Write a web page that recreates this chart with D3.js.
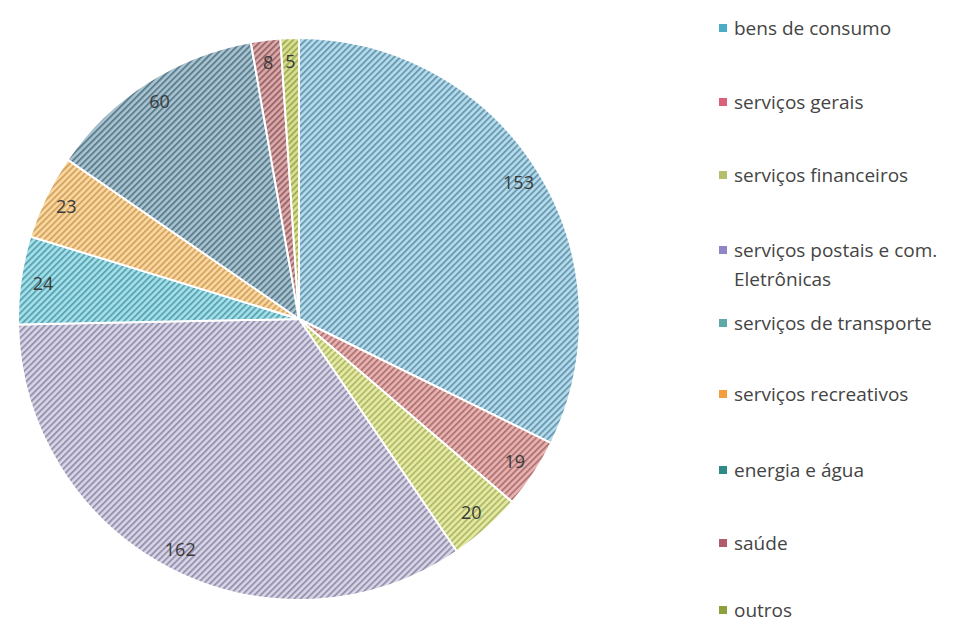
<!DOCTYPE html>
<html>
<head>
<meta charset="utf-8">
<script src="https://cdn.jsdelivr.net/npm/d3@7"></script>
<style>
  html, body { margin: 0; padding: 0; background: #ffffff; overflow: hidden; }
  svg { display: block; }
  text { font-family: "Open Sans", "DejaVu Sans", sans-serif; }
</style>
</head>
<body>
<svg id="chart" width="965" height="624"></svg>
<script>
// Sectors, in drawing order (clockwise from 12 o'clock)
const categories = [
  "bens de consumo",
  "serviços gerais",
  "serviços financeiros",
  "serviços postais e com. Eletrônicas",
  "serviços de transporte",
  "serviços recreativos",
  "energia e água",
  "saúde",
  "outros"
];
const values = [153, 19, 20, 162, 24, 23, 60, 8, 5];

// Legend text lines (long names wrap onto a second line)
const legendLines = [
  ["bens de consumo"],
  ["serviços gerais"],
  ["serviços financeiros"],
  ["serviços postais e com.", "Eletrônicas"],
  ["serviços de transporte"],
  ["serviços recreativos"],
  ["energia e água"],
  ["saúde"],
  ["outros"]
];

// Hatched fills: light ground + darker diagonal stripes, plus a solid swatch colour
const groundColors = ["#b6dbeb", "#eab3b1", "#e6eba3", "#d8d5e6", "#a6e0e9", "#fbd7a2", "#a9c3d0", "#dcaaab", "#d8e193"];
const stripeColors = ["#6a9bb3", "#ae7775", "#b3ba6c", "#9793b0", "#5aa6b4", "#d4a560", "#5e7f8f", "#9a676a", "#a3ad57"];
const swatchColors = ["#4bacc6", "#d9627a", "#b5be6a", "#8f86c8", "#5ea8a8", "#f59d3d", "#2f8a8a", "#b05a6a", "#8ca03c"];

const svg = d3.select("#chart");
const defs = svg.append("defs");

categories.forEach((c, i) => {
  const p = defs.append("pattern")
    .attr("id", "hatch" + i)
    .attr("patternUnits", "userSpaceOnUse")
    .attr("width", 4.4)
    .attr("height", 4.4)
    .attr("patternTransform", "rotate(45)");
  p.append("rect").attr("width", 4.4).attr("height", 4.4).attr("fill", groundColors[i]);
  p.append("rect").attr("x", 0).attr("width", 1.9).attr("height", 4.4).attr("fill", stripeColors[i]);
});

// Pie geometry
const cx = 299, cy = 319, radius = 281;

const pie = d3.pie().sort(null).value(d => d.value);
const arcs = pie(categories.map((c, i) => ({ name: c, value: values[i], index: i })));

const arc = d3.arc().innerRadius(0).outerRadius(radius);
const labelArc = d3.arc().innerRadius(radius * 0.92).outerRadius(radius * 0.92);

const g = svg.append("g").attr("transform", `translate(${cx},${cy})`);

g.selectAll("path.slice")
  .data(arcs)
  .enter().append("path")
  .attr("class", "slice")
  .attr("d", arc)
  .attr("fill", d => `url(#hatch${d.data.index})`)
  .attr("stroke", "#ffffff")
  .attr("stroke-width", 2)
  .attr("stroke-linejoin", "round");

g.selectAll("text.value")
  .data(arcs)
  .enter().append("text")
  .attr("class", "value")
  .attr("transform", d => `translate(${labelArc.centroid(d)})`)
  .attr("text-anchor", "middle")
  .attr("dominant-baseline", "central")
  .attr("font-size", 18)
  .attr("fill", "#3a3a3a")
  .text(d => d.data.value);

// Legend
const legendX = 719;
const legendY = [28, 102, 175, 250, 323, 394, 470, 543, 610];
const lineGap = 29;

const leg = svg.append("g");
categories.forEach((c, i) => {
  const row = leg.append("g").attr("transform", `translate(${legendX},${legendY[i]})`);
  row.append("rect")
    .attr("x", 0).attr("y", -4)
    .attr("width", 8).attr("height", 8)
    .attr("fill", swatchColors[i]);
  legendLines[i].forEach((t, k) => {
    row.append("text")
      .attr("x", 15)
      .attr("y", k * lineGap)
      .attr("dominant-baseline", "central")
      .attr("font-size", 19)
      .attr("fill", "#444444")
      .text(t);
  });
});
</script>
</body>
</html>
